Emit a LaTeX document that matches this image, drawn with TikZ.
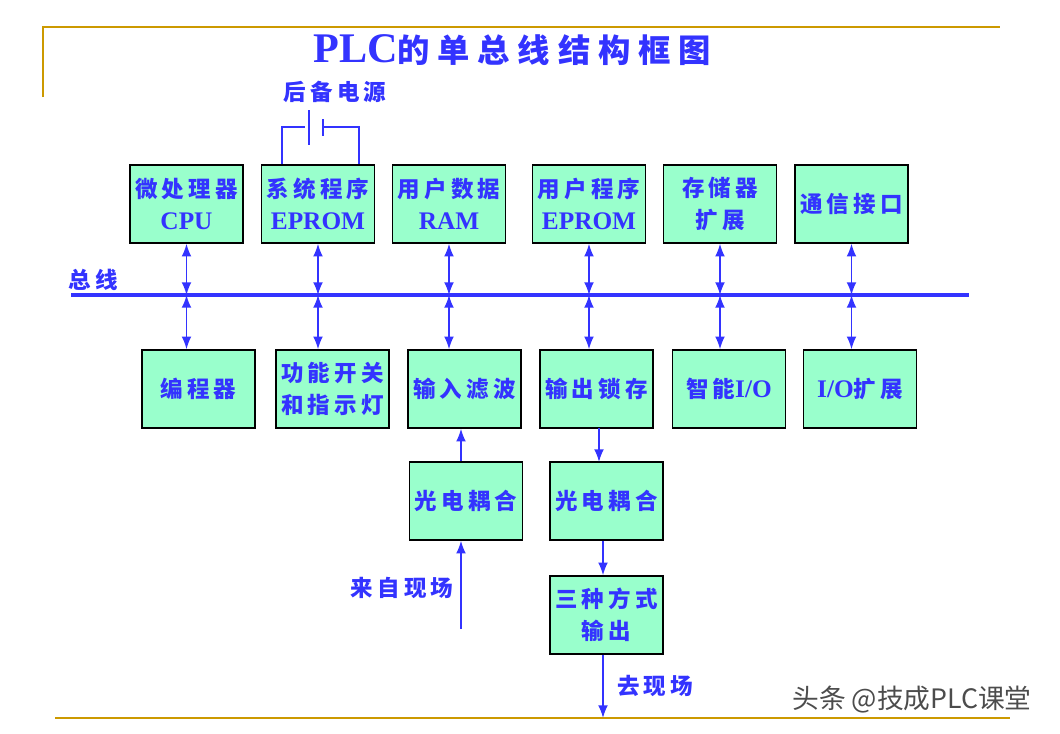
\documentclass[tikz,border=0pt]{standalone}
\usepackage{fontspec}
\setmainfont{Liberation Serif}
\newfontfamily\cjk{Noto Sans CJK SC}[LetterSpace=18]
\newfontfamily\cjkt{Noto Sans CJK SC}[LetterSpace=24]
\newfontfamily\wmfont{Noto Sans CJK SC}
\usetikzlibrary{positioning,arrows.meta,calc}

\definecolor{boxgreen}{HTML}{99FFCC}
\definecolor{textblue}{HTML}{3333FF}
\definecolor{framegold}{HTML}{CC9900}
\newcommand{\zh}[1]{{\cjk\fontsize{16}{23}\selectfont #1}}
\newcommand{\zht}[1]{{\cjkt\fontsize{23}{30}\selectfont #1}}

\begin{document}
\begin{tikzpicture}[x=0.025cm,y=-0.025cm,
	box/.style={draw=black,line width=1pt,fill=boxgreen,text=textblue,
		minimum width=2.83cm,minimum height=1.95cm,inner sep=0pt,
		align=center,font=\fontsize{18}{23}\selectfont\bfseries},
	lbl/.style={text=textblue,inner sep=0pt,font=\bfseries},
	link/.style={draw=textblue,line width=1.2pt},
	both/.style={link,{Latex[length=9pt,width=7pt]}-{Latex[length=9pt,width=7pt]}},
	one/.style={link,-{Latex[length=9pt,width=7pt]}},
	bus/.style={draw=textblue,line width=2.4pt},
	wire/.style={draw=textblue,line width=0.75pt},
	frame/.style={draw=framegold,line width=1.3pt}]
	\useasboundingbox (0,0) rectangle (1060,733);

	% frame and title
	\draw[frame] (43,97) -- (43,27) -- (1000,27);
	\draw[frame] (55,718) -- (1010,718);
	\node[lbl,font=\fontsize{30}{36}\selectfont\bfseries] 
		  (ttl) at (512,50) {PLC\zht{的单总线结构框图}};

	% upper row
	\node[box] (cpu) at (186.5,204) {\zh{微处理器}\\CPU};
	\node[box] (sys) at (318,204) {\zh{系统程序}\\EPROM};
	\node[box] (ram) at (449,204) {\zh{用户数据}\\RAM};
	\node[box] (usr) at (589,204) {\zh{用户程序}\\EPROM};
	\node[box] (mem) at (720,204) {\zh{存储器}\\\zh{扩展}};
	\node[box] (com) at (851.5,204) {\zh{通信接口}};

	% lower row
	\node[box] (prg) at (198.5,389) {\zh{编程器}};
	\node[box] (sw) at (332.5,389) {\zh{功能开关}\\\zh{和指示灯}};
	\node[box] (inf) at (464.5,389) {\zh{输入滤波}};
	\node[box] (outl) at (596.5,389) {\zh{输出锁存}};
	\node[box] (iio) at (729,389) {\zh{智能}I/O};
	\node[box] (ioe) at (860,389) {I/O\zh{扩展}};

	% I/O chain
	\node[box] (oc1) at (466,501) {\zh{光电耦合}};
	\node[box] (oc2) at (606.5,501) {\zh{光电耦合}};
	\node[box] (out3) at (606.5,615) {\zh{三种方式}\\\zh{输出}};

	% backup battery
	\node[lbl] (bat) at (335,92) {\zh{后备电源}};
	\coordinate (batA) at (282,127);
	\coordinate (batB) at (359,127);
	\draw[wire] (batA |- sys.north) -- (batA) -- ++(23,0);
	\draw[wire] (309,110) -- (309,145);
	\draw[wire] (323,119) -- (323,136);
	\draw[wire] (323,127) -- (batB) -- (batB |- sys.north);

	% bus
	\coordinate (busL) at (71,295);
	\coordinate (busR) at (969,295);
	\draw[bus] (busL) -- (busR);
	\node[lbl] (buslbl) at (93,280) {\zh{总线}};

	\draw[both] (cpu.south) -- (cpu.south |- busL);
	\draw[both] (cpu.south |- busL) -- (cpu.south |- prg.north);
	\draw[both] (sys.south) -- (sys.south |- busL);
	\draw[both] (sys.south |- busL) -- (sys.south |- sw.north);
	\draw[both] (ram.south) -- (ram.south |- busL);
	\draw[both] (ram.south |- busL) -- (ram.south |- inf.north);
	\draw[both] (usr.south) -- (usr.south |- busL);
	\draw[both] (usr.south |- busL) -- (usr.south |- outl.north);
	\draw[both] (mem.south) -- (mem.south |- busL);
	\draw[both] (mem.south |- busL) -- (mem.south |- iio.north);
	\draw[both] (com.south) -- (com.south |- busL);
	\draw[both] (com.south |- busL) -- (com.south |- ioe.north);

	% field signals
	\coordinate (src) at (461,629);
	\coordinate (dst) at (603,718);
	\node[lbl] (srclbl) at (402,588) {\zh{来自现场}};
	\node[lbl] (dstlbl) at (655,686) {\zh{去现场}};
	\draw[one] (src) -- (src |- oc1.south);
	\draw[one] (src |- oc1.north) -- (src |- inf.south);
	\draw[one] (599,428) -- (599,462);
	\draw[one] (dst |- oc2.south) -- (dst |- out3.north);
	\draw[one] (dst |- out3.south) -- (dst);

	\node[text=black!70,font=\wmfont\fontsize{19}{22}\selectfont] 
		  (wm) at (912,700) {头条 @技成PLC课堂};
\end{tikzpicture}
\end{document}
